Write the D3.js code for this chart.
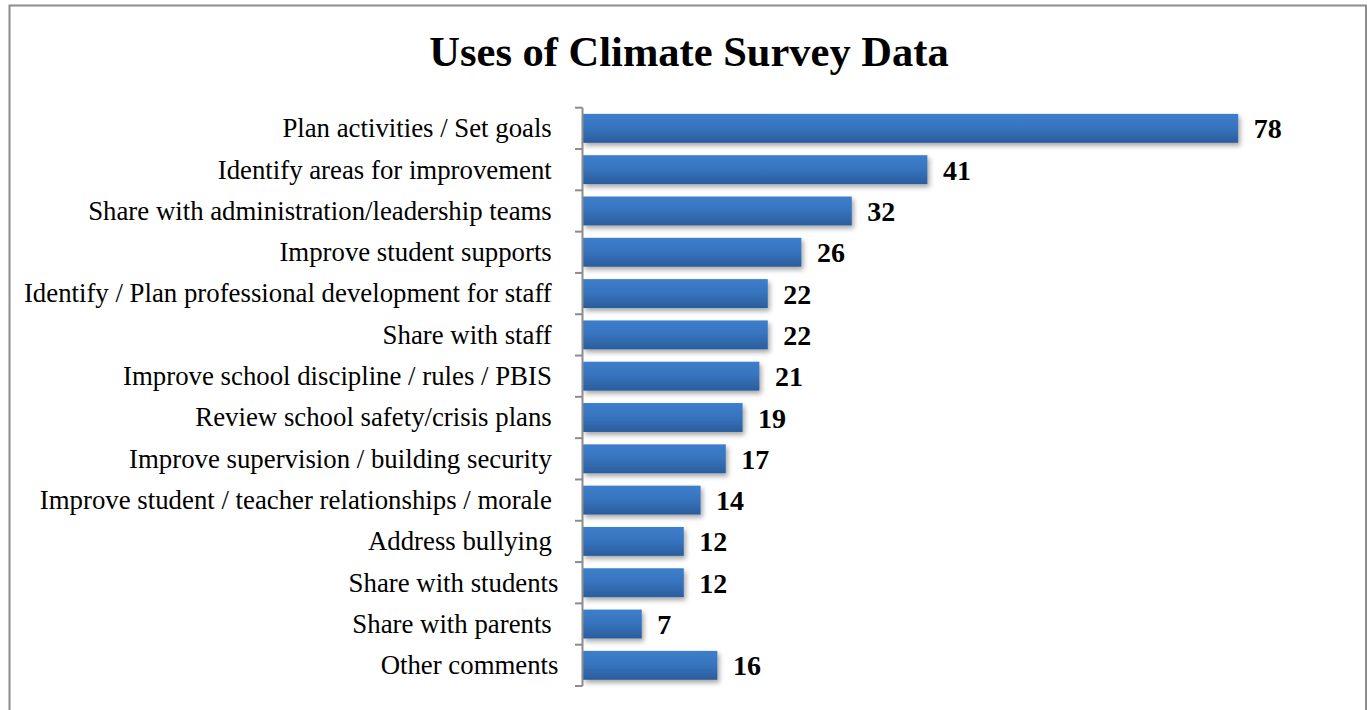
<!DOCTYPE html>
<html><head><meta charset="utf-8">
<script src="https://cdn.jsdelivr.net/npm/d3@7"></script>
<style>
body{margin:0;background:#fff;}
svg text{font-family:"Liberation Serif","Times New Roman",serif;white-space:pre;}
</style></head>
<body><svg id="c" width="1367" height="710"></svg>
<script>
const categories = [
  "Plan activities / Set goals ",
  "Identify areas for improvement ",
  "Share with administration/leadership teams ",
  "Improve student supports ",
  "Identify / Plan professional development for staff ",
  "Share with staff ",
  "Improve school discipline / rules / PBIS ",
  "Review school safety/crisis plans ",
  "Improve supervision / building security ",
  "Improve student / teacher relationships / morale ",
  "Address bullying ",
  "Share with students",
  "Share with parents ",
  "Other comments"
];
const values = [78, 41, 32, 26, 22, 22, 21, 19, 17, 14, 12, 12, 7, 16];
const title = "Uses of Climate Survey Data";

const svg = d3.select("#c");
const defs = svg.append("defs");
const grad = defs.append("linearGradient").attr("id","g").attr("x1",0).attr("y1",0).attr("x2",0).attr("y2",1);
grad.append("stop").attr("offset","0%").attr("stop-color","#3d7ecb");
grad.append("stop").attr("offset","45%").attr("stop-color","#3775c0");
grad.append("stop").attr("offset","100%").attr("stop-color","#2b5d9c");
const f = defs.append("filter").attr("id","sh").attr("x","-5%").attr("y","-30%").attr("width","120%").attr("height","180%");
f.append("feDropShadow").attr("dx",2).attr("dy",3).attr("stdDeviation",2.5).attr("flood-color","#000").attr("flood-opacity",0.35);

// border
svg.append("path").attr("d","M9.5,710 V5.5 H1366 V710").attr("fill","none").attr("stroke","#8c8c8c").attr("stroke-width",2);

svg.append("text").attr("x",689).attr("y",66).attr("text-anchor","middle")
  .attr("font-size",42.5).attr("font-weight","bold").text(title);

const x = d3.scaleLinear().domain([0,80]).range([583,1255]);
const y = d3.scaleBand().domain(categories).range([107.7,686]).paddingInner(0.3).paddingOuter(0.15);

svg.append("g").selectAll("rect").data(values).join("rect")
  .attr("x",x(0)).attr("y",(d,i)=>y(categories[i]))
  .attr("width",d=>x(d)-x(0)).attr("height",y.bandwidth())
  .attr("fill","url(#g)").attr("filter","url(#sh)");

svg.append("g").selectAll("text").data(values).join("text")
  .attr("x",d=>x(d)+15.5).attr("y",(d,i)=>y(categories[i])+y.bandwidth()/2+10)
  .attr("font-size",28).attr("font-weight","bold").text(d=>d);

const ax = svg.append("g").attr("transform","translate(582.5,0)")
  .call(d3.axisLeft(y).tickSize(0).tickPadding(24).tickFormat(d=>d));
ax.select(".domain").remove();
ax.selectAll("text").attr("font-size",26.8).attr("fill","#000")
  .style("font-family","'Liberation Serif','Times New Roman',serif").attr("dy","0.33em");

// axis line and ticks between categories
const ys = [107.7].concat(categories.map(c=>y(c)+y.bandwidth()+y.step()*y.paddingInner()/2));
ys[ys.length-1]=686;
svg.append("line").attr("x1",582.5).attr("x2",582.5).attr("y1",107.7).attr("y2",686).attr("stroke","#8c8c8c").attr("stroke-width",2);
svg.append("g").selectAll("line").data(ys).join("line")
  .attr("x1",575).attr("x2",582.5).attr("y1",d=>d).attr("y2",d=>d).attr("stroke","#8c8c8c").attr("stroke-width",2);
</script></body></html>
